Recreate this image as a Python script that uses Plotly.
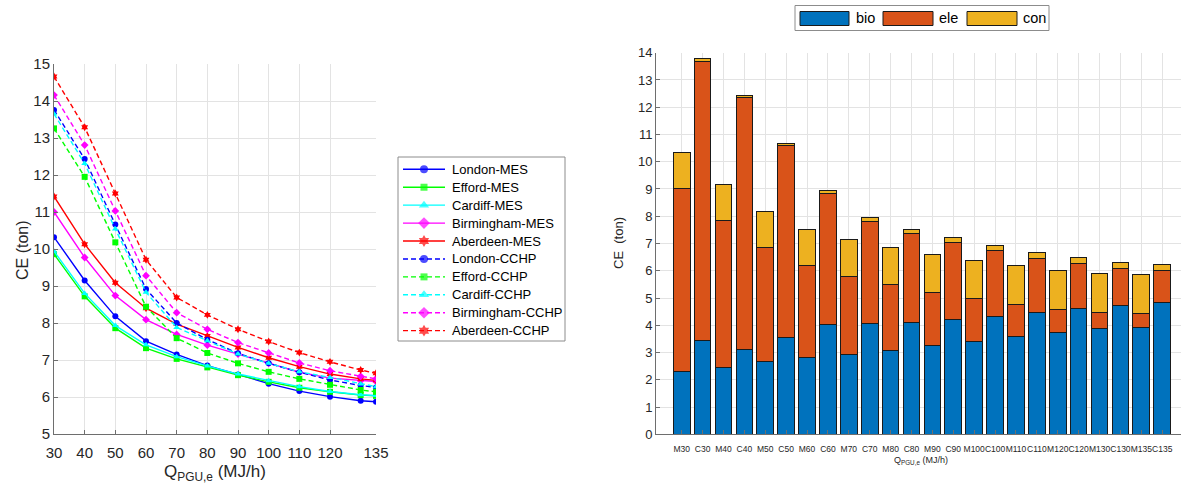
import plotly.graph_objects as go

# ---------------- left panel: CE versus PGU capacity ----------------
q_pgu = [30, 40, 50, 60, 70, 80, 90, 100, 110, 120, 130, 135]
q_ticks = [30, 40, 50, 60, 70, 80, 90, 100, 110, 120, 135]

london_mes = [10.32, 9.15, 8.18, 7.51, 7.15, 6.85, 6.61, 6.36, 6.16, 6.01, 5.90, 5.87]
efford_mes = [9.86, 8.72, 7.86, 7.32, 7.03, 6.80, 6.59, 6.41, 6.25, 6.14, 6.05, 6.03]
cardiff_mes = [9.94, 8.80, 7.93, 7.41, 7.09, 6.84, 6.62, 6.44, 6.28, 6.15, 6.06, 6.04]
birmingham_mes = [11.00, 9.77, 8.74, 8.09, 7.69, 7.40, 7.16, 6.91, 6.67, 6.51, 6.44, 6.42]
aberdeen_mes = [11.42, 10.13, 9.09, 8.40, 7.97, 7.65, 7.34, 7.06, 6.82, 6.62, 6.49, 6.45]

london_cchp = [13.76, 12.43, 10.66, 8.92, 8.00, 7.55, 7.18, 6.91, 6.67, 6.46, 6.31, 6.26]
efford_cchp = [13.26, 11.95, 10.18, 8.44, 7.59, 7.19, 6.91, 6.68, 6.49, 6.33, 6.19, 6.14]
cardiff_cchp = [13.65, 12.31, 10.54, 8.83, 7.88, 7.52, 7.16, 6.91, 6.68, 6.53, 6.35, 6.28]
birmingham_cchp = [14.16, 12.81, 11.03, 9.28, 8.28, 7.83, 7.47, 7.19, 6.92, 6.71, 6.56, 6.49]
aberdeen_cchp = [14.66, 13.29, 11.50, 9.71, 8.69, 8.22, 7.83, 7.50, 7.20, 6.95, 6.73, 6.64]

# ---------------- right panel: stacked CE components ----------------
cases = ["M30", "C30", "M40", "C40", "M50", "C50", "M60", "C60", "M70", "C70",
         "M80", "C80", "M90", "C90", "M100", "C100", "M110", "C110", "M120", "C120",
         "M130", "C130", "M135", "C135"]
bio = [2.29, 3.43, 2.45, 3.10, 2.67, 3.56, 2.83, 4.03, 2.94, 4.06, 3.08, 4.09,
       3.26, 4.20, 3.41, 4.33, 3.57, 4.47, 3.73, 4.60, 3.87, 4.74, 3.90, 4.82]
ele_top = [9.02, 13.68, 7.86, 12.34, 6.85, 10.58, 6.19, 8.82, 5.80, 7.82, 5.50, 7.38,
           5.21, 7.03, 4.97, 6.73, 4.76, 6.46, 4.59, 6.28, 4.48, 6.10, 4.44, 6.02]
total = [10.34, 13.78, 9.18, 12.44, 8.19, 10.67, 7.51, 8.94, 7.15, 7.95, 6.87, 7.53,
         6.61, 7.21, 6.38, 6.92, 6.18, 6.66, 6.01, 6.48, 5.91, 6.32, 5.88, 6.24]
ele = [round(t - b, 2) for t, b in zip(ele_top, bio)]
con = [round(t - e, 2) for t, e in zip(total, ele_top)]

W, H = 1181, 483
FONT = "Liberation Sans, Arial, sans-serif"
TXT = "#262626"
GRID = "#e3e3e3"
AXIS = "#6e6e6e"
DASH = "5px,3px"

def px(x):
    return x / W

def py(y):
    return 1 - y / H

fig = go.Figure()

series = [
    ("London-MES", london_mes, "#0000FF", "circle", "solid", 8),
    ("Efford-MES", efford_mes, "#00FF00", "square", "solid", 7),
    ("Cardiff-MES", cardiff_mes, "#00FFFF", "triangle-up", "solid", 9),
    ("Birmingham-MES", birmingham_mes, "#FF00FF", "diamond", "solid", 9),
    ("Aberdeen-MES", aberdeen_mes, "#FF0000", "hexagram", "solid", 9),
    ("London-CCHP", london_cchp, "#0000FF", "circle", DASH, 8),
    ("Efford-CCHP", efford_cchp, "#00FF00", "square", DASH, 7),
    ("Cardiff-CCHP", cardiff_cchp, "#00FFFF", "triangle-up", DASH, 9),
    ("Birmingham-CCHP", birmingham_cchp, "#FF00FF", "diamond", DASH, 9),
    ("Aberdeen-CCHP", aberdeen_cchp, "#FF0000", "hexagram", DASH, 9),
]
for name, vals, col, sym, dash, _ in series:
    fig.add_trace(go.Scatter(
        x=q_pgu, y=vals, name=name, mode="lines+markers", showlegend=False,
        line=dict(color=col, width=1.4, dash=dash),
        marker=dict(color=col, symbol=sym, size=6, line=dict(width=0)),
        xaxis="x", yaxis="y",
    ))

bar_colors = {"bio": "#0072BD", "ele": "#D95319", "con": "#EDB120"}
for name, vals in (("bio", bio), ("ele", ele), ("con", con)):
    fig.add_trace(go.Bar(
        x=cases, y=vals, name=name, showlegend=False,
        marker=dict(color=bar_colors[name], line=dict(color="#1a1a1a", width=1)),
        xaxis="x2", yaxis="y2",
    ))

shapes = []
annotations = []

# legend for the line panel, drawn on a pixel-space overlay axis
LEG_X0, LEG_X1, LEG_Y0, LEG_Y1 = 398, 565, 157, 341
ROW0, ROW_STEP = 169.3, 17.93
shapes.append(dict(type="rect", xref="paper", yref="paper", layer="below",
                   x0=px(LEG_X0), x1=px(LEG_X1), y0=py(LEG_Y1), y1=py(LEG_Y0),
                   line=dict(color="#8c8c8c", width=1), fillcolor="white"))
for i, (name, _, col, sym, dash, msize) in enumerate(series):
    row = ROW0 + i * ROW_STEP
    fig.add_trace(go.Scatter(
        x=[403, 424, 445], y=[row, row, row], mode="lines+markers",
        showlegend=False, hoverinfo="skip",
        line=dict(color=col, width=1.4, dash=dash),
        marker=dict(color=col, symbol=sym, size=[0, msize, 0], line=dict(width=0)),
        xaxis="x3", yaxis="y3",
    ))
    annotations.append(dict(text=name, xref="paper", yref="paper", x=px(450), y=py(row),
                            xanchor="left", yanchor="middle", showarrow=False,
                            font=dict(family=FONT, size=13, color="black")))

# horizontal legend box for the stacked bars
shapes.append(dict(type="rect", xref="paper", yref="paper",
                   x0=px(795), x1=px(1049), y0=py(30.5), y1=py(5.5),
                   line=dict(color="#8c8c8c", width=1), fillcolor="white"))
for name, x0, x1, tx in (("bio", 800, 849, 854), ("ele", 883, 933, 937), ("con", 967, 1017, 1021)):
    shapes.append(dict(type="rect", xref="paper", yref="paper",
                       x0=px(x0), x1=px(x1), y0=py(25.5), y1=py(11.5),
                       line=dict(color="#1a1a1a", width=1), fillcolor=bar_colors[name]))
    annotations.append(dict(text=name, xref="paper", yref="paper", x=px(tx), y=py(18.5),
                            xanchor="left", yanchor="middle", showarrow=False,
                            font=dict(family=FONT, size=14.5, color="black")))

# axis titles
annotations += [
    dict(text="CE (ton)", xref="paper", yref="paper", x=px(22), y=py(250),
         textangle=-90, showarrow=False, xanchor="center", yanchor="middle",
         font=dict(family=FONT, size=16, color=TXT)),
    dict(text="Q<sub>PGU,e</sub> (MJ/h)", xref="paper", yref="paper", x=px(215), y=py(473),
         showarrow=False, xanchor="center", yanchor="middle",
         font=dict(family=FONT, size=17, color=TXT)),
    dict(text="CE\u00a0 (ton)", xref="paper", yref="paper", x=px(619), y=py(243),
         textangle=-90, showarrow=False, xanchor="center", yanchor="middle",
         font=dict(family=FONT, size=13, color=TXT)),
    dict(text="Q<sub>PGU,e</sub> (MJ/h)", xref="paper", yref="paper", x=px(921), y=py(460),
         showarrow=False, xanchor="center", yanchor="middle",
         font=dict(family=FONT, size=9, color=TXT)),
]

axis_common = dict(showgrid=True, gridcolor=GRID, gridwidth=1, zeroline=False,
                   showline=True, linecolor=AXIS, linewidth=1, ticks="inside",
                   ticklen=4, tickcolor=AXIS, mirror=False, automargin=False)

fig.update_layout(
    width=W, height=H, margin=dict(l=0, r=0, t=0, b=0, autoexpand=False),
    paper_bgcolor="white", plot_bgcolor="rgba(0,0,0,0)",
    barmode="stack", bargap=0.2, showlegend=False,
    font=dict(family=FONT, color=TXT),
    xaxis=dict(domain=[px(54), px(376)], range=[30, 135], tickvals=q_ticks,
               tickfont=dict(size=15, color=TXT), ticklabelstandoff=5,
               anchor="y", **axis_common),
    yaxis=dict(domain=[py(434), py(64)], range=[5, 15], dtick=1,
               tickfont=dict(size=15, color=TXT), anchor="x", **axis_common),
    xaxis2=dict(domain=[px(656), 1], range=[-1.23, 23.9], type="category",
                tickfont=dict(size=8.5, color=TXT), tickangle=0, ticklabelstandoff=6,
                anchor="y2", **axis_common),
    yaxis2=dict(domain=[py(434.3), py(52.7)], range=[0, 14], dtick=1,
                tickfont=dict(size=13, color=TXT), anchor="x2", **axis_common),
    xaxis3=dict(domain=[0, 1], range=[0, W], visible=False, fixedrange=True,
                automargin=False, anchor="y3"),
    yaxis3=dict(domain=[0, 1], range=[H, 0], visible=False, fixedrange=True,
                automargin=False, anchor="x3"),
    shapes=shapes, annotations=annotations,
)

fig.write_html("out.html")
